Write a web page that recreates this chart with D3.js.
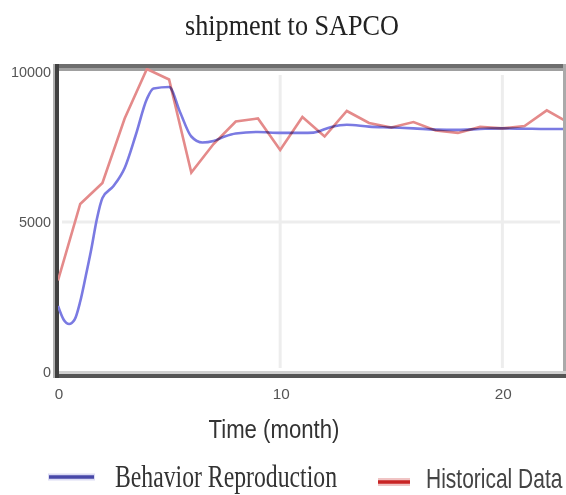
<!DOCTYPE html>
<html>
<head>
<meta charset="utf-8">
<script src="https://cdn.jsdelivr.net/npm/d3@7"></script>
<style>
  html, body { margin: 0; padding: 0; background: #fff; }
  svg { display: block; }
</style>
</head>
<body>
<svg id="chart" width="566" height="495"></svg>
<script>
const title = "shipment to SAPCO";
const xLabel = "Time (month)";
const seriesNames = ["Behavior Reproduction", "Historical Data"];
const xTicks = [0, 10, 20];
const yTicks = [0, 5000, 10000];

// Behavior Reproduction (model output)
const behaviorT = [0, 0.25, 0.5, 0.75, 1, 1.25, 1.5, 1.75, 2, 2.5, 3, 3.5, 4, 4.3, 5, 5.5, 6, 6.5, 7, 7.5, 8, 9, 10, 11, 11.5, 12.3, 13, 14, 15, 16, 17, 18, 19, 20, 21, 22, 23];
const behaviorV = [2200, 1750, 1600, 1750, 2350, 3200, 4100, 5100, 5800, 6200, 6800, 7900, 9100, 9450, 9500, 8650, 7850, 7650, 7700, 7850, 7950, 8000, 7970, 7970, 7980, 8170, 8240, 8180, 8150, 8120, 8080, 8070, 8100, 8120, 8110, 8100, 8100];

// Historical Data (monthly)
const historyT = [0, 1, 2, 3, 4, 5, 6, 7, 8, 9, 10, 11, 12, 13, 14, 15, 16, 17, 18, 19, 20, 21, 22, 23];
const historyV = [3050, 5600, 6300, 8450, 10100, 9750, 6650, 7600, 8350, 8450, 7400, 8500, 7850, 8700, 8300, 8150, 8330, 8050, 7970, 8170, 8120, 8200, 8720, 8300];

const svg = d3.select("#chart");
const x = d3.scaleLinear().domain([0, 23]).range([58, 569]);
const y = d3.scaleLinear().domain([0, 10000]).range([372, 72]);

// clip for plot
svg.append("defs").append("clipPath").attr("id", "clip")
  .append("rect").attr("x", 58).attr("y", 68).attr("width", 505).attr("height", 304);

// gridlines
const grid = svg.append("g");
grid.selectAll("line.vx").data(xTicks.filter(d => d > 0)).join("line")
  .attr("x1", d => x(d)).attr("x2", d => x(d))
  .attr("y1", 75).attr("y2", 368)
  .attr("stroke", "#ededed").attr("stroke-width", 3);
grid.selectAll("line.hy").data(yTicks.filter(d => d > 0 && d < 10000)).join("line")
  .attr("x1", 62).attr("x2", 560)
  .attr("y1", d => y(d)).attr("y2", d => y(d))
  .attr("stroke", "#ededed").attr("stroke-width", 3);

// frame
svg.append("line").attr("x1", 55).attr("x2", 566).attr("y1", 66).attr("y2", 66).attr("stroke", "#6e6e6e").attr("stroke-width", 4);
svg.append("line").attr("x1", 59).attr("x2", 566).attr("y1", 69.5).attr("y2", 69.5).attr("stroke", "#a0a0a0").attr("stroke-width", 3);
svg.append("line").attr("x1", 564.5).attr("x2", 564.5).attr("y1", 64).attr("y2", 378).attr("stroke", "#aaaaaa").attr("stroke-width", 3);
svg.append("line").attr("x1", 59).attr("x2", 566).attr("y1", 372.5).attr("y2", 372.5).attr("stroke", "#d0d0d0").attr("stroke-width", 3);
svg.append("line").attr("x1", 54).attr("x2", 566).attr("y1", 376).attr("y2", 376).attr("stroke", "#555555").attr("stroke-width", 4);
svg.append("line").attr("x1", 54).attr("x2", 54).attr("y1", 64).attr("y2", 378).attr("stroke", "#b0b0b0").attr("stroke-width", 2);
svg.append("line").attr("x1", 57).attr("x2", 57).attr("y1", 64).attr("y2", 378).attr("stroke", "#404040").attr("stroke-width", 4);

// data lines
const plot = svg.append("g").attr("clip-path", "url(#clip)");
const behavior = behaviorT.map((t, i) => [t, behaviorV[i]]);
const history = historyT.map((t, i) => [t, historyV[i]]);

plot.append("path").datum(behavior)
  .attr("d", d3.line().x(d => x(d[0])).y(d => y(d[1])).curve(d3.curveMonotoneX))
  .attr("fill", "none").attr("stroke", "#7a7ae2").attr("stroke-width", 2.6)
  .style("mix-blend-mode", "multiply");
plot.append("path").datum(history)
  .attr("d", d3.line().x(d => x(d[0])).y(d => y(d[1])).curve(d3.curveLinear))
  .attr("fill", "none").attr("stroke", "#e48a8a").attr("stroke-width", 2.6)
  .style("mix-blend-mode", "multiply");

// tick labels
const font = "'Liberation Sans', Arial, sans-serif";
svg.append("g").selectAll("text").data(yTicks).join("text")
  .attr("x", 51).attr("y", d => y(d) + 5)
  .attr("text-anchor", "end")
  .attr("font-family", font).attr("font-size", 14).attr("fill", "#555")
  .attr("textLength", d => String(d).length * 8)
  .attr("lengthAdjust", "spacingAndGlyphs")
  .text(d => d);
svg.append("g").selectAll("text").data(xTicks).join("text")
  .attr("x", d => x(d) + 1).attr("y", 399)
  .attr("text-anchor", "middle")
  .attr("font-family", font).attr("font-size", 14).attr("fill", "#555")
  .attr("textLength", d => String(d).length * 8.5)
  .attr("lengthAdjust", "spacingAndGlyphs")
  .text(d => d);

// title
svg.append("text").attr("x", 292).attr("y", 35)
  .attr("text-anchor", "middle")
  .attr("font-family", "'Liberation Serif', 'Times New Roman', serif")
  .attr("font-size", 30).attr("fill", "#222")
  .attr("textLength", 214).attr("lengthAdjust", "spacingAndGlyphs")
  .text(title);

// x label
svg.append("text").attr("x", 274).attr("y", 438)
  .attr("text-anchor", "middle")
  .attr("font-family", font).attr("font-size", 26).attr("fill", "#333")
  .attr("textLength", 131).attr("lengthAdjust", "spacingAndGlyphs")
  .text(xLabel);

// legend
const legend = svg.append("g");
legend.append("line").attr("x1", 48).attr("x2", 95).attr("y1", 477).attr("y2", 477)
  .attr("stroke", "#dcdcf4").attr("stroke-width", 7);
legend.append("line").attr("x1", 49).attr("x2", 94).attr("y1", 477).attr("y2", 477)
  .attr("stroke", "#4848a8").attr("stroke-width", 3.5);
legend.append("text").attr("x", 115).attr("y", 487)
  .attr("font-family", "'Liberation Serif', 'Times New Roman', serif").attr("font-size", 31).attr("fill", "#333")
  .attr("textLength", 222).attr("lengthAdjust", "spacingAndGlyphs")
  .text(seriesNames[0]);
legend.append("line").attr("x1", 378).attr("x2", 410).attr("y1", 482).attr("y2", 482)
  .attr("stroke", "#f0c4c4").attr("stroke-width", 8);
legend.append("line").attr("x1", 378).attr("x2", 410).attr("y1", 482).attr("y2", 482)
  .attr("stroke", "#c82424").attr("stroke-width", 3.5);
legend.append("text")
  .attr("transform", "translate(426,488) scale(1,1.33)")
  .attr("font-family", font).attr("font-size", 21).attr("fill", "#444")
  .text(seriesNames[1]);
</script>
</body>
</html>
